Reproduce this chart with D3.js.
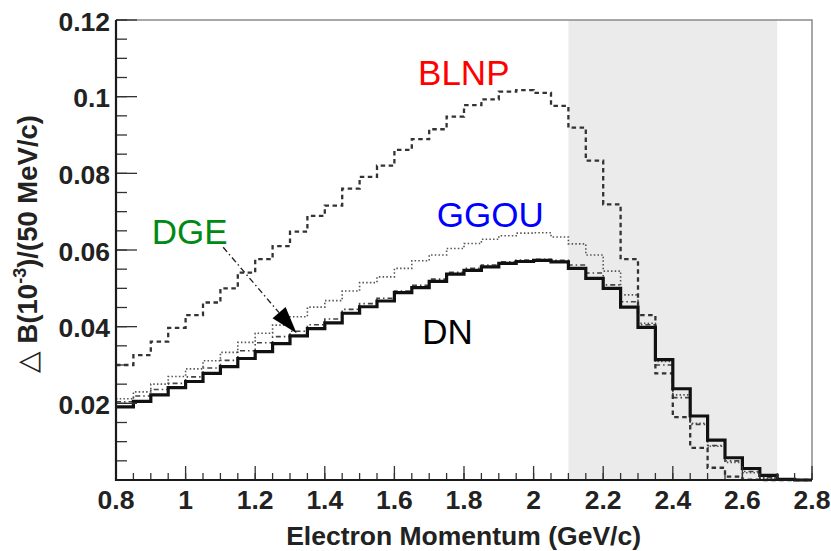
<!DOCTYPE html>
<html>
<head>
<meta charset="utf-8">
<script src="https://cdn.jsdelivr.net/npm/d3@7"></script>
<style>
  html, body { margin: 0; padding: 0; background: #fff; }
  svg { display: block; }
  text { font-family: "Liberation Sans", Arial, Helvetica, sans-serif; }
</style>
</head>
<body>
<svg id="chart" width="831" height="551"></svg>
<script>
// Lower edges of the 50 MeV/c momentum bins (GeV/c)
const binLow = [0.80,0.85,0.90,0.95,1.00,1.05,1.10,1.15,1.20,1.25,
                1.30,1.35,1.40,1.45,1.50,1.55,1.60,1.65,1.70,1.75,
                1.80,1.85,1.90,1.95,2.00,2.05,2.10,2.15,2.20,2.25,
                2.30,2.35,2.40,2.45,2.50,2.55,2.60,2.65,2.70,2.75];
const binWidth = 0.05;

// Partial branching fraction per bin, 10^-3 / (50 MeV/c)
const DN   = [0.0191,0.0205,0.0222,0.0241,0.0257,0.0278,0.0296,0.0317,0.0335,0.0356,
              0.0376,0.0395,0.0410,0.0435,0.0452,0.0467,0.0489,0.0502,0.0518,0.0537,
              0.0547,0.0556,0.0565,0.0570,0.0573,0.0569,0.0552,0.0526,0.0500,0.0451,
              0.0398,0.0314,0.0238,0.0167,0.0104,0.0058,0.0030,0.0012,0.0002,0.0000];
const BLNP = [0.0300,0.0326,0.0361,0.0397,0.0430,0.0463,0.0500,0.0541,0.0576,0.0610,
              0.0648,0.0689,0.0716,0.0760,0.0791,0.0820,0.0861,0.0889,0.0915,0.0948,
              0.0978,0.0993,0.1013,0.1017,0.1010,0.0976,0.0919,0.0833,0.0719,0.0576,
              0.0430,0.0278,0.0164,0.0084,0.0032,0.0009,0.0001,0.0000,0.0000,0.0000];
const GGOU = [0.0212,0.0230,0.0250,0.0270,0.0290,0.0311,0.0333,0.0359,0.0383,0.0404,
              0.0426,0.0451,0.0468,0.0493,0.0515,0.0530,0.0552,0.0572,0.0587,0.0604,
              0.0617,0.0628,0.0637,0.0644,0.0645,0.0634,0.0616,0.0587,0.0545,0.0483,
              0.0409,0.0309,0.0222,0.0148,0.0088,0.0046,0.0019,0.0005,0.0001,0.0000];
const DGE  = [0.0204,0.0219,0.0236,0.0252,0.0269,0.0292,0.0312,0.0337,0.0358,0.0374,
              0.0388,0.0405,0.0420,0.0445,0.0460,0.0474,0.0493,0.0508,0.0524,0.0542,
              0.0552,0.0561,0.0569,0.0574,0.0576,0.0573,0.0561,0.0540,0.0509,0.0465,
              0.0405,0.0300,0.0215,0.0145,0.0090,0.0050,0.0022,0.0006,0.0000,0.0000];

// Axis ticks
const xMajorTicks = [0.8,1.0,1.2,1.4,1.6,1.8,2.0,2.2,2.4,2.6,2.8];
const xTickLabels = ["0.8","1","1.2","1.4","1.6","1.8","2","2.2","2.4","2.6","2.8"];
const yMajorTicks = [0.02,0.04,0.06,0.08,0.10,0.12];
const yTickLabels = ["0.02","0.04","0.06","0.08","0.1","0.12"];

// Signal-region band (GeV/c)
const bandRange = [2.1, 2.7];

const svg = d3.select("#chart");
const plot = { left: 116, right: 812, top: 20, bottom: 480 };

const x = d3.scaleLinear().domain([0.8, 2.8]).range([plot.left, plot.right]);
const y = d3.scaleLinear().domain([0, 0.12]).range([plot.bottom, plot.top]);

// shaded band
svg.append("rect")
  .attr("x", x(bandRange[0])).attr("y", plot.top)
  .attr("width", x(bandRange[1]) - x(bandRange[0]))
  .attr("height", plot.bottom - plot.top)
  .attr("fill", "#ebebeb");

// frame (top / right)
svg.append("path")
  .attr("d", `M${plot.left},${plot.top}H${plot.right}V${plot.bottom}`)
  .attr("fill", "none").attr("stroke", "#8a8a8a").attr("stroke-width", 1.5);

// histogram step path helper
function stepPoints(vals) {
  const pts = vals.map((v, i) => [binLow[i], v]);
  pts.push([binLow[binLow.length - 1] + binWidth, vals[vals.length - 1]]);
  return pts;
}
const stepLine = d3.line()
  .x(d => x(d[0])).y(d => y(d[1]))
  .curve(d3.curveStepAfter);

const series = [
  { name: "GGOU", vals: GGOU, color: "#555", width: 1.6, dash: "1.5,2.2" },
  { name: "DGE",  vals: DGE,  color: "#444", width: 1.6, dash: "5,3,1.5,3" },
  { name: "BLNP", vals: BLNP, color: "#333", width: 2.3, dash: "4.5,3.5" },
  { name: "DN",   vals: DN,   color: "#111", width: 3.2, dash: null }
];
series.forEach(s => {
  svg.append("path")
    .attr("d", stepLine(stepPoints(s.vals)))
    .attr("fill", "none")
    .attr("stroke", s.color)
    .attr("stroke-width", s.width)
    .attr("stroke-dasharray", s.dash)
    .attr("stroke-linejoin", "miter");
});

// axes
const axisColor = "#222";
const labelSize = 26.5;
const gx = svg.append("g");
// minor x ticks every 0.05
const xMinor = binLow.concat([2.8]);
gx.selectAll("line.minor").data(xMinor).join("line")
  .attr("x1", d => x(d)).attr("x2", d => x(d))
  .attr("y1", plot.bottom).attr("y2", plot.bottom - 7)
  .attr("stroke", "#333").attr("stroke-width", 1.3);
gx.selectAll("line.major").data(xMajorTicks).join("line")
  .attr("x1", d => x(d)).attr("x2", d => x(d))
  .attr("y1", plot.bottom).attr("y2", plot.bottom - 14)
  .attr("stroke", "#333").attr("stroke-width", 1.3);
gx.selectAll("text").data(xMajorTicks).join("text")
  .attr("x", d => x(d)).attr("y", 509)
  .attr("text-anchor", "middle")
  .attr("font-size", labelSize).attr("font-weight", "bold").attr("fill", axisColor)
  .text((d, i) => xTickLabels[i]);

const gy = svg.append("g");
const yMinor = d3.range(0, 25).map(i => +(i * 0.005).toFixed(3));
gy.selectAll("line.minor").data(yMinor).join("line")
  .attr("x1", plot.left).attr("x2", plot.left + 11)
  .attr("y1", d => y(d)).attr("y2", d => y(d))
  .attr("stroke", "#333").attr("stroke-width", 1.3);
gy.selectAll("line.major").data(yMajorTicks).join("line")
  .attr("x1", plot.left).attr("x2", plot.left + 21)
  .attr("y1", d => y(d)).attr("y2", d => y(d))
  .attr("stroke", "#333").attr("stroke-width", 1.3);
gy.selectAll("text").data(yMajorTicks).join("text")
  .attr("x", 110).attr("y", d => y(d) + 10.5)
  .attr("text-anchor", "end")
  .attr("font-size", labelSize).attr("font-weight", "bold").attr("fill", axisColor)
  .text((d, i) => yTickLabels[i]);

// axis lines
svg.append("path")
  .attr("d", `M${plot.left},${plot.top}V${plot.bottom}H${plot.right}`)
  .attr("fill", "none").attr("stroke", "#1a1a1a").attr("stroke-width", 2.2);

// axis titles
svg.append("text")
  .attr("x", 641).attr("y", 545)
  .attr("text-anchor", "end")
  .attr("font-size", labelSize).attr("font-weight", "bold").attr("fill", axisColor)
  .text("Electron Momentum (GeV/c)");

const yt = svg.append("text")
  .attr("transform", "translate(37,115) rotate(-90)")
  .attr("text-anchor", "end")
  .attr("font-size", 27.5).attr("font-weight", "bold").attr("fill", axisColor);
yt.append("tspan").attr("font-weight", "normal").text("\u25B3");
yt.append("tspan").text(" B(10");
yt.append("tspan").attr("font-size", 18).attr("dy", -11).text("-3");
yt.append("tspan").attr("dy", 11).text(")/(50 MeV/c)");

// model labels
const labels = [
  { text: "BLNP", x: 1.668, y: 0.1031, color: "#ff0000" },
  { text: "GGOU", x: 1.722, y: 0.0660, color: "#0000ff" },
  { text: "DGE",  x: 0.903, y: 0.0616, color: "#008a14" },
  { text: "DN",   x: 1.680, y: 0.0355, color: "#000000" }
];
svg.selectAll("text.model").data(labels).join("text")
  .attr("class", "model")
  .attr("x", d => x(d.x)).attr("y", d => y(d.y))
  .attr("font-size", 35).attr("fill", d => d.color)
  .text(d => d.text);

// arrow from the DGE label to its curve
const arrowFrom = [1.108, 0.0607], arrowTo = [1.319, 0.0383];
const ax0 = x(arrowFrom[0]), ay0 = y(arrowFrom[1]);
const ax1 = x(arrowTo[0]),  ay1 = y(arrowTo[1]);
const len = Math.hypot(ax1 - ax0, ay1 - ay0);
const ux = (ax1 - ax0) / len, uy = (ay1 - ay0) / len;
const headLen = 27, headHalf = 8.6;
const bx = ax1 - ux * headLen, by = ay1 - uy * headLen;
svg.append("line")
  .attr("x1", ax0).attr("y1", ay0).attr("x2", bx).attr("y2", by)
  .attr("stroke", "#222").attr("stroke-width", 1.4)
  .attr("stroke-dasharray", "6,3,1.5,3");
svg.append("path")
  .attr("d", `M${ax1},${ay1}L${bx - uy * headHalf},${by + ux * headHalf}L${bx + uy * headHalf},${by - ux * headHalf}Z`)
  .attr("fill", "#000");
</script>
</body>
</html>
